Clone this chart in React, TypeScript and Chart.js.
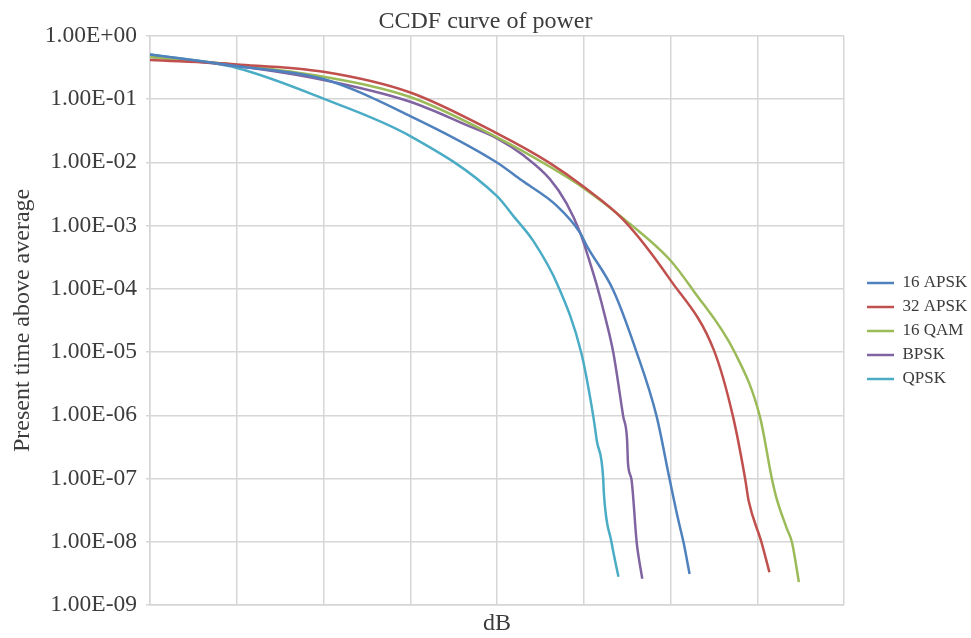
import React, { useEffect, useRef } from 'react';
import { Chart, registerables } from 'chart.js';

Chart.register(...registerables);

// ---- data (x in grid units of dB axis, y = probability) ----
const seriesNames = ['16 APSK', '32 APSK', '16 QAM', 'BPSK', 'QPSK'];
const seriesColors = ['#4f81bd', '#c0504d', '#9bbb59', '#8064a2', '#4bacc6'];

const apsk16X = [0, 1.0, 2.0, 3.0, 3.99, 4.28, 4.69, 4.96, 5.03, 5.34, 5.61, 5.84, 5.99, 6.09, 6.15, 6.22];
const apsk16Y = [0.506, 0.333, 0.207, 0.0538, 0.0101, 0.00523, 0.00205, 7.6e-4, 4.9e-4, 9.5e-5, 9.9e-6, 9.6e-7, 9.7e-8, 2.2e-8, 9.8e-9, 3.1e-9];

const apsk32X = [0, 1.0, 2.0, 3.0, 4.0, 4.61, 5.0, 5.46, 6.0, 6.5, 6.72, 6.86, 6.9, 7.05, 7.14];
const apsk32Y = [0.414, 0.353, 0.27, 0.127, 0.0286, 0.0097, 0.00409, 0.00122, 1.37e-4, 1.07e-5, 9.6e-7, 1.0e-7, 4.5e-8, 9.7e-9, 3.3e-9];

const qam16X = [0, 1.0, 2.0, 3.0, 3.99, 4.61, 5.0, 5.46, 6.0, 6.26, 6.74, 7.03, 7.17, 7.22, 7.34, 7.4, 7.48];
const qam16Y = [0.462, 0.345, 0.225, 0.1076, 0.0253, 0.0085, 0.0039, 0.00128, 2.8e-4, 9.5e-5, 9.9e-6, 9.6e-7, 9.7e-8, 5.0e-8, 1.63e-8, 9.8e-9, 2.3e-9];

const bpskX = [0, 1.0, 2.0, 3.0, 3.65, 4.0, 4.3, 4.61, 4.8, 4.96, 5.07, 5.15, 5.25, 5.34, 5.455, 5.5, 5.51, 5.55, 5.61, 5.63, 5.675];
const bpskY = [0.467, 0.333, 0.2, 0.0906, 0.0388, 0.0239, 0.013, 0.00542, 0.00226, 7.6e-4, 2.64e-4, 1.14e-4, 3.43e-5, 9.9e-6, 9.6e-7, 4.0e-7, 1.74e-7, 9.7e-8, 9.8e-9, 6.1e-9, 2.6e-9];

const qpskX = [0, 1.0, 2.0, 3.0, 4.0, 4.19, 4.42, 4.7, 4.97, 5.11, 5.15, 5.225, 5.23, 5.32, 5.4];
const qpskY = [0.506, 0.31, 0.1015, 0.026, 0.00292, 0.00141, 5.66e-4, 1.14e-4, 9.9e-6, 9.6e-7, 4.0e-7, 9.7e-8, 6.5e-8, 9.8e-9, 2.8e-9];

const seriesX = [apsk16X, apsk32X, qam16X, bpskX, qpskX];
const seriesY = [apsk16Y, apsk32Y, qam16Y, bpskY, qpskY];

const yTickValues = [1e-9, 1e-8, 1e-7, 1e-6, 1e-5, 1e-4, 1e-3, 1e-2, 1e-1, 1];
const yTickLabels = ['1.00E-09', '1.00E-08', '1.00E-07', '1.00E-06', '1.00E-05', '1.00E-04', '1.00E-03', '1.00E-02', '1.00E-01', '1.00E+00'];
const xGridValues = [0, 1, 2, 3, 4, 5, 6, 7, 8];

const titleText = 'CCDF curve of power';
const xTitle = 'dB';
const yTitle = 'Present time above average';

const serif = "'Liberation Serif', 'Times New Roman', serif";
const textColor = '#3c3c3c';
const gridColor = '#d6d6d6';

export default function App() {
  const ref = useRef<HTMLCanvasElement | null>(null);

  useEffect(() => {
    if (!ref.current) return;
    const datasets = seriesNames.map((name, i) => ({
      label: name,
      data: seriesX[i].map((x, j) => ({ x, y: seriesY[i][j] })),
      borderColor: seriesColors[i],
      backgroundColor: seriesColors[i],
      borderWidth: 2.5,
      pointRadius: 0,
      cubicInterpolationMode: 'monotone' as const,
      fill: false,
    }));

    const chart = new Chart(ref.current, {
      type: 'line',
      data: { datasets },
      options: {
        animation: false,
        responsive: true,
        maintainAspectRatio: false,
        layout: { padding: 0 },
        plugins: {
          title: {
            display: true,
            text: titleText,
            color: textColor,
            font: { family: serif, size: 24, weight: 'normal' },
            padding: { top: 7, bottom: 0 },
          },
          legend: {
            position: 'right',
            maxWidth: 111,
            title: {
              display: true,
              text: '',
              font: { size: 10 },
              padding: { top: 6, bottom: 6 },
            },
            labels: {
              usePointStyle: true,
              pointStyle: 'line',
              pointStyleWidth: 27,
              padding: 7,
              color: textColor,
              font: { family: serif, size: 17 },
            },
          },
          tooltip: { enabled: false },
        },
        scales: {
          x: {
            type: 'linear',
            min: 0,
            max: 8,
            afterBuildTicks: (s: any) => {
              s.ticks = xGridValues.map((v) => ({ value: v }));
            },
            ticks: { display: false },
            grid: { color: gridColor, lineWidth: 1.5, drawTicks: false },
            border: { color: gridColor, width: 1.5 },
            title: {
              display: true,
              text: xTitle,
              color: textColor,
              font: { family: serif, size: 24 },
              padding: { top: 0, bottom: 0 },
            },
            afterFit: (s: any) => {
              s.height = 33;
            },
          },
          y: {
            type: 'logarithmic',
            min: 1e-9,
            max: 1,
            afterBuildTicks: (s: any) => {
              s.ticks = yTickValues.map((v) => ({ value: v }));
            },
            ticks: {
              autoSkip: false,
              padding: 9,
              color: textColor,
              font: { family: serif, size: 23.5 },
              callback: (_v: any, i: number) => yTickLabels[i],
            },
            grid: { color: gridColor, lineWidth: 1.5, tickLength: 4 },
            border: { color: gridColor, width: 1.5 },
            title: {
              display: true,
              text: yTitle,
              color: textColor,
              font: { family: serif, size: 24 },
              padding: { top: 8, bottom: 0 },
            },
            afterFit: (s: any) => {
              s.width = 150;
            },
          },
          gap: {
            type: 'linear',
            position: 'right',
            display: true,
            grid: { display: false },
            border: { display: false },
            ticks: { display: false },
            afterFit: (s: any) => {
              s.width = 16;
            },
          },
        },
      } as any,
    });
    return () => chart.destroy();
  }, []);

  return (
    <div style={{ position: 'fixed', left: 0, top: 0, width: 971, height: 638, background: '#fff' }}>
      <canvas ref={ref} />
    </div>
  );
}
